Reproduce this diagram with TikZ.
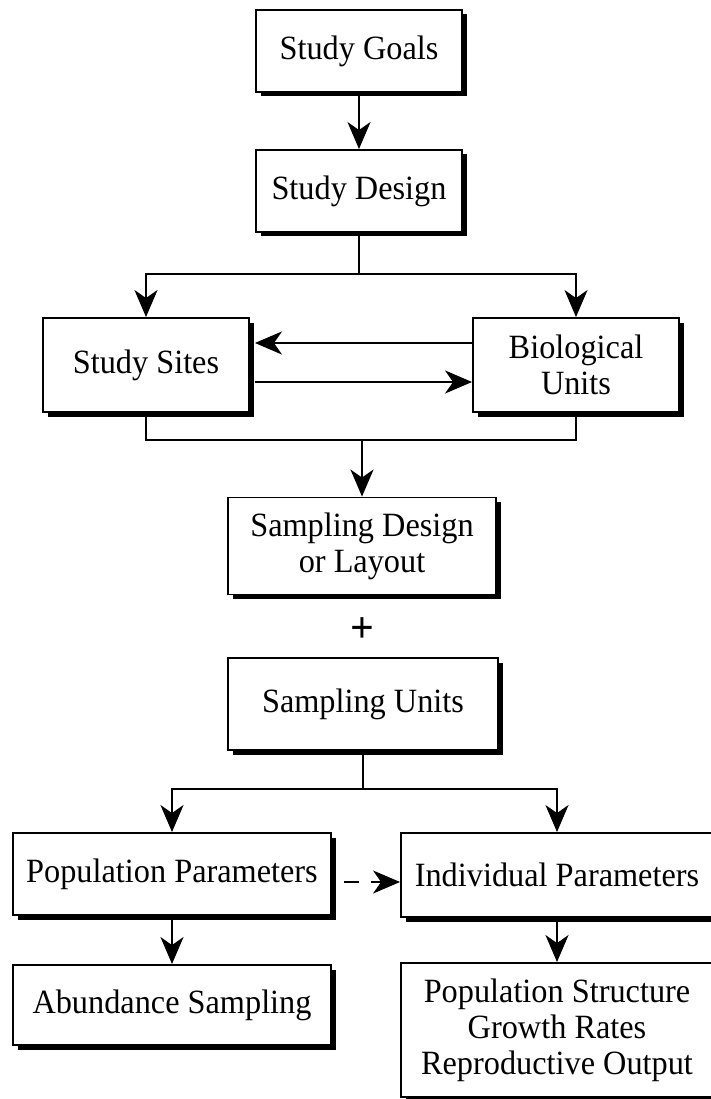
\documentclass[tikz,border=0pt]{standalone}
\usepackage{fontspec}
\setmainfont[FakeStretch=0.95]{Liberation Serif}
\usetikzlibrary{arrows.meta,shadows}
\begin{document}
\begin{tikzpicture}[x=1pt,y=-1pt,
  box/.style={draw=black, line width=1.9pt, fill=white, align=center, inner sep=0pt,
     drop shadow={shadow xshift=4.5pt, shadow yshift=-4.5pt, fill=black, opacity=1},
     font=\fontsize{34}{36}\selectfont},
  arr/.style={line width=2.2pt, -{Stealth[length=27pt,width=23pt,inset=8pt]}},
  conn/.style={line width=2.2pt}]
\useasboundingbox (0,0) rectangle (711,1099);
\fill[white] (0,0) rectangle (711,1099);
\node[box, minimum width=206pt, minimum height=82pt] (goals) at (359,51) {Study Goals};
\node[box, minimum width=206pt, minimum height=82pt] (design) at (359,191) {Study Design};
\node[box, minimum width=206pt, minimum height=94pt] (sites) at (146,365) {Study Sites};
\node[box, minimum width=206pt, minimum height=94pt] (bio) at (576,365) {Biological\\Units};
\node[box, minimum width=268pt, minimum height=97pt] (sdesign) at (362,546) {Sampling Design\\or Layout};
\node[font=\bfseries\fontsize{44}{44}\selectfont] (plus) at (362,630) {+};
\node[box, minimum width=270pt, minimum height=92pt] (sunits) at (363,704) {Sampling Units};
\node[box, minimum width=318pt, minimum height=82pt] (popparam) at (172,874) {Population Parameters};
\node[box, minimum width=312pt, minimum height=84pt] (indparam) at (557,875) {Individual Parameters};
\node[box, minimum width=318pt, minimum height=80pt] (abund) at (172,1005) {Abundance Sampling};
\node[box, minimum width=312pt, minimum height=134pt] (popstruct) at (557,1030) {Population Structure\\Growth Rates\\Reproductive Output};

\draw[arr] (goals.south) -- (design.north);
\coordinate (j1) at (359,274);
\draw[conn] (design.south) -- (j1);
\draw[arr] (j1) -| (sites.north);
\draw[arr] (j1) -| (bio.north);
\draw[arr] ([yshift=22pt]bio.west) -- ([yshift=22pt,xshift=5pt]sites.east);
\draw[arr] ([yshift=-17pt,xshift=5pt]sites.east) -- ([yshift=-17pt]bio.west);
\coordinate (j2) at (362,440);
\draw[conn] (sites.south) |- (j2) -| (bio.south);
\draw[arr] (j2) -- (sdesign.north);
\coordinate (j3) at (363,789);
\draw[conn] (sunits.south) -- (j3);
\draw[arr] (j3) -| (popparam.north);
\draw[arr] (j3) -| (indparam.north);
\draw[arr] (popparam.south) -- (abund.north);
\draw[arr] (indparam.south) -- (popstruct.north);
\draw[arr, dash pattern=on 15pt off 12pt on 10pt off 2pt] ([xshift=12pt,yshift=-8pt]popparam.east) -- ([yshift=-7pt]indparam.west);
\end{tikzpicture}
\end{document}
